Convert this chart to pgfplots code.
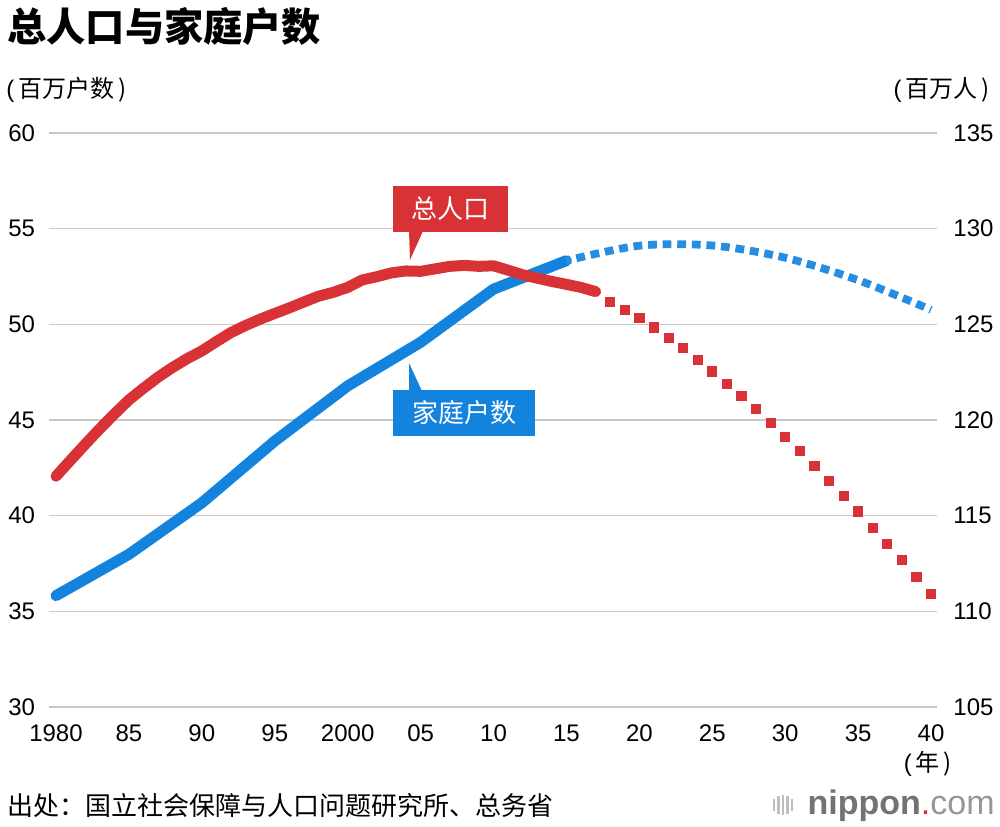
\documentclass[border=0pt]{standalone}
\usepackage{pgfplots}
\pgfplotsset{compat=1.18}
\usepackage{fontspec}
\setmainfont{Liberation Sans}
\newfontfamily\cjk{Noto Sans CJK SC}
\definecolor{nred}{RGB}{216,50,55}
\definecolor{nblue}{RGB}{20,131,222}
\definecolor{gridgray}{RGB}{200,200,200}
\definecolor{axgray}{RGB}{80,80,80}
\definecolor{logogray}{RGB}{115,115,115}
\definecolor{logolight}{RGB}{150,150,150}
\definecolor{iconcol}{RGB}{190,190,190}
\begin{document}
\begin{tikzpicture}
\useasboundingbox (0,0) rectangle (500pt,413pt);
\begin{axis}[
  at={(24.5pt,59.5pt)}, anchor=south west,
  scale only axis, width=444pt, height=287pt,
  xmin=1979.52, xmax=2040.41,
  ymin=30, ymax=60,
  xtick={1980,1985,...,2040},
  xticklabels={1980,85,90,95,2000,05,10,15,20,25,30,35,40},
  ytick={30,35,...,60},
  ymajorgrids, grid style={gridgray, line width=0.6pt},
  major tick length=0pt,
  y axis line style={draw=none},
  x axis line style={axgray, line width=0.6pt},
  tick style={draw=none},
  /pgf/number format/assume math mode=true,
  ticklabel style={font=\fontsize{12}{14}\selectfont, inner sep=0pt},
  yticklabel style={anchor=west, xshift=-20.5pt},
  xticklabel style={anchor=north, yshift=-8.7pt},
  clip=false,
]
% households (millions), census
\addplot[nblue, line width=5.5pt, line cap=round, line join=round] coordinates {
(1980,35.82) (1985,37.98) (1990,40.67) (1995,43.90) (2000,46.78) (2005,49.06) (2010,51.84) (2015,53.33)
};
% households projection
\addplot[nblue!92!white, line width=3.9pt, smooth, dash pattern=on 4.4pt off 2.9pt, dash phase=2.2pt] coordinates {
(2015,53.33) (2020,54.11) (2025,54.12) (2030,53.48) (2035,52.31) (2040,50.76)
};
\end{axis}
\begin{axis}[
  at={(24.5pt,59.5pt)}, anchor=south west,
  scale only axis, width=444pt, height=287pt,
  xmin=1979.52, xmax=2040.41,
  ymin=105, ymax=135,
  ytick={105,110,...,135},
  axis y line*=right, axis x line=none,
  y axis line style={draw=none},
  major tick length=0pt,
  tick style={draw=none},
  /pgf/number format/assume math mode=true,
  ticklabel style={font=\fontsize{12}{14}\selectfont, inner sep=0pt},
  yticklabel style={anchor=west, xshift=8pt},
  clip=false,
]
% total population (millions)
\addplot[nred, line width=5.5pt, line cap=round, line join=round] coordinates {
(1980,117.06) (1981,117.90) (1982,118.73) (1983,119.54) (1984,120.31)
(1985,121.05) (1986,121.66) (1987,122.24) (1988,122.75) (1989,123.21)
(1990,123.61) (1991,124.10) (1992,124.57) (1993,124.94) (1994,125.27)
(1995,125.57) (1996,125.86) (1997,126.17) (1998,126.47) (1999,126.67)
(2000,126.93) (2001,127.32) (2002,127.49) (2003,127.69) (2004,127.79)
(2005,127.77) (2006,127.90) (2007,128.03) (2008,128.08) (2009,128.03)
(2010,128.06) (2011,127.83) (2012,127.59) (2013,127.41) (2014,127.24)
(2015,127.09) (2016,126.93) (2017,126.71)
};
% population projection
\addplot[only marks, mark=square*, mark size=2.3pt, color=nred] coordinates {
(2018,126.18) (2019,125.77) (2020,125.33) (2021,124.84) (2022,124.31)
(2023,123.75) (2024,123.16) (2025,122.54) (2026,121.90) (2027,121.24)
(2028,120.56) (2029,119.85) (2030,119.13) (2031,118.38) (2032,117.62)
(2033,116.83) (2034,116.03) (2035,115.22) (2036,114.38) (2037,113.54)
(2038,112.67) (2039,111.80) (2040,110.92)
};
\end{axis}
% title and units
\node[anchor=west, inner sep=0pt] at (3.5pt,400pt) {\cjk\bfseries\fontsize{19.6}{22}\selectfont 总人口与家庭户数};
\node[anchor=west, inner sep=0pt] at (3pt,368pt) {\fontsize{12}{14}\selectfont (\,\cjk 百万户数\,)};
\node[anchor=east, inner sep=0pt] at (495pt,368pt) {\fontsize{12}{14}\selectfont (\,\cjk 百万人\,)};
\node[anchor=center, inner sep=0pt] at (464pt,31pt) {\fontsize{12}{14}\selectfont (\,\cjk 年\,)};
% source
\node[anchor=west, inner sep=0pt] at (3.5pt,10pt) {\cjk\fontsize{13}{15}\selectfont 出处：国立社会保障与人口问题研究所、总务省};
% callouts
\fill[nred] (196.5pt,297pt) rectangle (254pt,320pt);
\fill[nred] (204.5pt,297.5pt) -- (211.5pt,297.5pt) -- (205pt,283pt) -- cycle;
\node[text=white, inner sep=0pt] at (225.25pt,308.5pt) {\cjk\fontsize{13}{15}\selectfont 总人口};
\fill[nblue] (196.5pt,195pt) rectangle (267.5pt,218pt);
\fill[nblue] (204.5pt,217.5pt) -- (211pt,217.5pt) -- (204.5pt,231.5pt) -- cycle;
\node[text=white, inner sep=0pt] at (232pt,206.5pt) {\cjk\fontsize{13}{15}\selectfont 家庭户数};
% logo
\foreach \xx/\hh in {387/3.2, 389.25/4.4, 391.5/5.2, 393.75/4.4, 396/3.2}{
  \draw[iconcol, line width=1.1pt] (\xx pt,10.5pt) ++(0,-\hh pt) -- ++(0,2*\hh pt);
}
\node[anchor=base east, inner sep=0pt] at (497.5pt,6pt) {\fontsize{17}{19}\selectfont\textcolor{logogray}{\bfseries nippon}\textcolor{nred}{.}\textcolor{logolight}{com}};
\end{tikzpicture}
\end{document}
